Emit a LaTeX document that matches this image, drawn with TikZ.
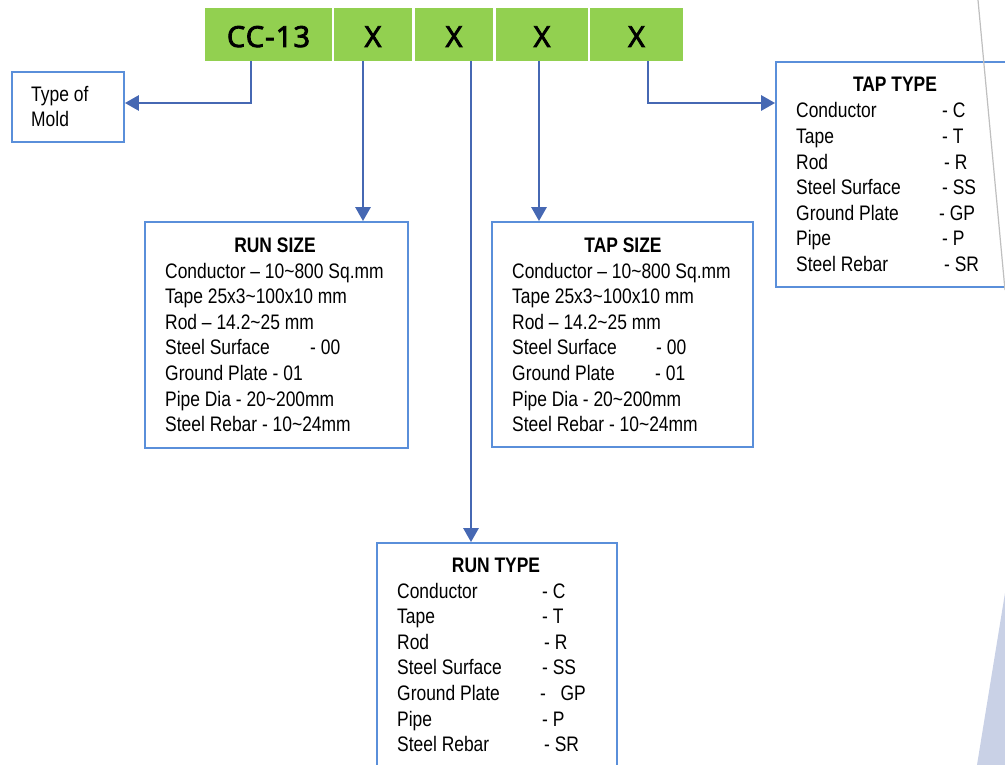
\documentclass[tikz,border=0pt]{standalone}
\usepackage{fontspec}
\usetikzlibrary{arrows.meta}
\newfontfamily\bodyfont{Liberation Sans}[FakeStretch=0.83]
\newfontfamily\headfont{Open Sans}[FakeBold=3, LetterSpace=4]
\definecolor{hgreen}{HTML}{92D050}
\definecolor{bborder}{HTML}{5A8FDA}
\definecolor{conncol}{HTML}{4668B3}
\definecolor{tri}{HTML}{C9D1E6}
\definecolor{grayline}{HTML}{BFBFBF}
\tikzset{
  hbox/.style={fill=hgreen, draw=none, minimum height=53pt, inner sep=0pt,
    font=\headfont\fontsize{29}{31}\selectfont, text height=25pt, text depth=0pt},
  infobox/.style={draw=bborder, line width=1.8pt, fill=none, inner sep=0pt},
  conn/.style={draw=conncol, line width=2.8pt, -{Triangle[length=14pt,width=15pt]}},
  txt/.style={anchor=base west, inner sep=0pt, font=\bodyfont\fontsize{21}{25.6}\selectfont},
  ttl/.style={anchor=base, inner sep=0pt, font=\bodyfont\bfseries\fontsize{21}{25.6}\selectfont},
}
\begin{document}
\begin{tikzpicture}[x=1pt,y=-1pt]
\useasboundingbox (0,0) rectangle (1005,765);
% header
\node[hbox, minimum width=127pt] (h1) at (268.5,34.5) {CC-13};
\node[hbox, minimum width=78pt] (h2) at (373,34.5) {X};
\node[hbox, minimum width=78pt] (h3) at (454,34.5) {X};
\node[hbox, minimum width=92pt] (h4) at (542,34.5) {X};
\node[hbox, minimum width=93pt] (h5) at (636.5,34.5) {X};
% boxes
\node[infobox, minimum width=112pt, minimum height=70pt] (mold) at (68,107) {};
\node[infobox, minimum width=263pt, minimum height=226pt] (rs) at (276.5,335) {};
\node[infobox, minimum width=261pt, minimum height=225pt] (ts) at (622.5,334.5) {};
\node[infobox, minimum width=234pt, minimum height=225pt] (tt) at (893,174.5) {};
\node[infobox, minimum width=240pt, minimum height=232pt] (rt) at (497,659) {};
% connector positions
\coordinate (a1) at (251,103);
\coordinate (a2) at (363,0);
\coordinate (a3) at (471,0);
\coordinate (a4) at (539,0);
\coordinate (a5) at (648,103);
\draw[conn] (h1.south -| a1) |- (mold.east |- a1);
\draw[conn] (h2.south -| a2) -- (a2 |- rs.north);
\draw[conn] (h3.south -| a3) -- (a3 |- rt.north);
\draw[conn] (h4.south -| a4) -- (a4 |- ts.north);
\draw[conn] (h5.south -| a5) |- (tt.west |- a5);
% Type of Mold
\node[txt] (m1) at (31,102) {Type of};
\node[txt] (m2) at (31,127) {Mold};
% RUN SIZE
\node[ttl] (rst) at (275,252) {RUN SIZE};
\foreach \t [count=\i] in {Conductor \textendash{} 10\textasciitilde800 Sq.mm, Tape 25x3\textasciitilde100x10 mm, Rod \textendash{} 14.2\textasciitilde25 mm, Steel Surface, Ground Plate - 01, Pipe Dia - 20\textasciitilde200mm, Steel Rebar - 10\textasciitilde24mm}
  \node[txt] (rsl\i) at (165,{278+25.6*(\i-1)}) {\t};
\node[txt] (rsc4) at (310,{278+25.6*3}) {- 00};
% TAP SIZE
\node[ttl] (tst) at (623,252) {TAP SIZE};
\foreach \t [count=\i] in {Conductor \textendash{} 10\textasciitilde800 Sq.mm, Tape 25x3\textasciitilde100x10 mm, Rod \textendash{} 14.2\textasciitilde25 mm, Steel Surface, Ground Plate, Pipe Dia - 20\textasciitilde200mm, Steel Rebar - 10\textasciitilde24mm}
  \node[txt] (tsl\i) at (512,{278+25.6*(\i-1)}) {\t};
\node[txt] (tsc4) at (656,{278+25.6*3}) {- 00};
\node[txt] (tsc5) at (655,{278+25.6*4}) {- 01};
% TAP TYPE
\node[ttl] (ttt) at (895,92) {TAP TYPE};
\foreach \t [count=\i] in {Conductor, Tape, Rod, Steel Surface, Ground Plate, Pipe, Steel Rebar}
  \node[txt] (ttl\i) at (796,{118+25.6*(\i-1)}) {\t};
\foreach \c/\x [count=\i] in {C/942, T/942, R/944, SS/942, GP/939, P/942, SR/944}
  \node[txt] (ttc\i) at (\x,{118+25.6*(\i-1)}) {- \c};
% RUN TYPE
\node[ttl] (rtt) at (496,572) {RUN TYPE};
\foreach \t [count=\i] in {Conductor, Tape, Rod, Steel Surface, Ground Plate, Pipe, Steel Rebar}
  \node[txt] (rtl\i) at (397,{598+25.6*(\i-1)}) {\t};
\foreach \c/\x [count=\i] in {C/542, T/542, R/544, SS/542, {\ \ GP}/540, P/542, SR/544}
  \node[txt] (rtc\i) at (\x,{598+25.6*(\i-1)}) {- \c};
% decorations on the right
\draw[grayline, line width=1.2pt] (978,0) -- (1005,290);
\fill[tri] (1005,593) -- (977,765) -- (1005,765) -- cycle;
\end{tikzpicture}
\end{document}
